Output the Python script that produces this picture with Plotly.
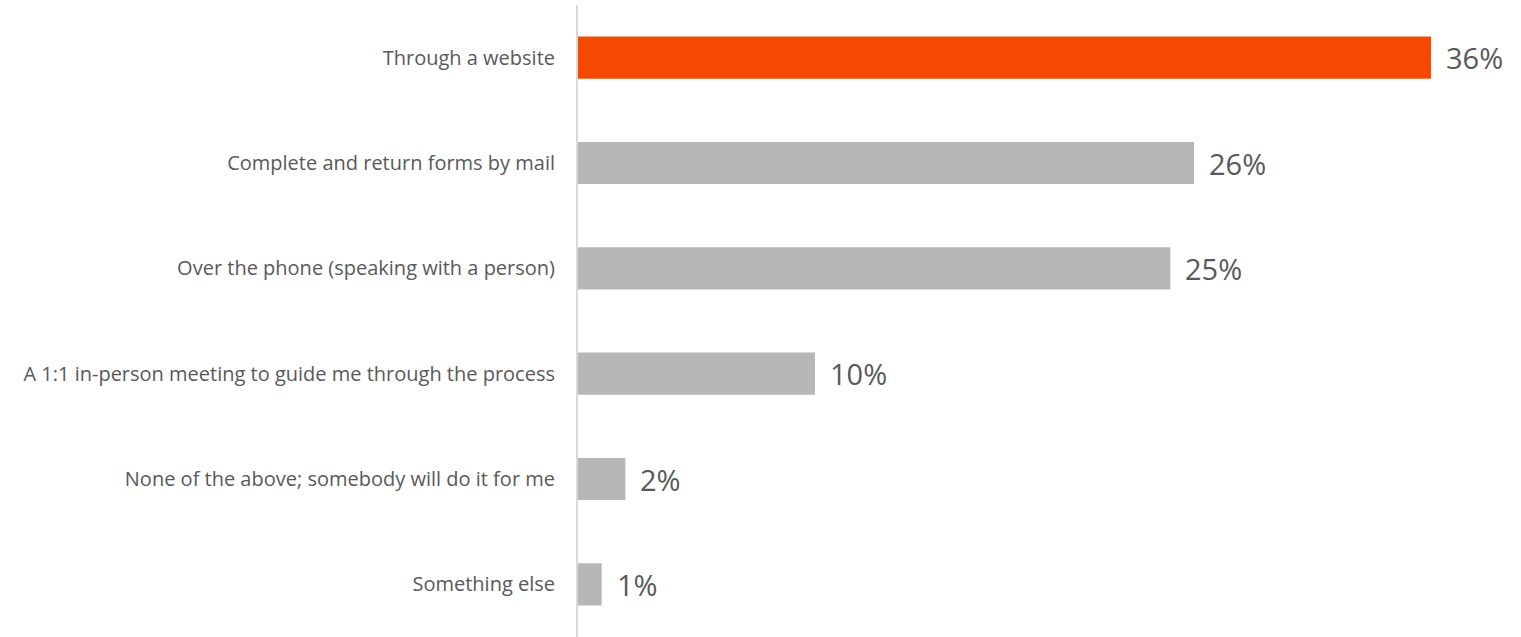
import plotly.graph_objects as go

# Survey answers, listed top to bottom
categories = [
    "Through a website",
    "Complete and return forms by mail",
    "Over the phone (speaking with a person)",
    "A 1:1 in-person meeting to guide me through the process",
    "None of the above; somebody will do it for me",
    "Something else",
]
values = [36, 26, 25, 10, 2, 1]
value_labels = ["36%", "26%", "25%", "10%", "2%", "1%"]

HIGHLIGHT = "#F54800"
MUTED = "#B7B7B7"
TEXT = "#595959"
FONT = "Open Sans"

colors = [HIGHLIGHT] + [MUTED] * (len(categories) - 1)

fig = go.Figure(
    go.Bar(
        x=values,
        y=categories,
        orientation="h",
        marker=dict(color=colors, line=dict(width=0)),
        hoverinfo="skip",
    )
)

for cat, val, lab in zip(categories, values, value_labels):
    fig.add_annotation(
        x=val, y=cat, text=lab, showarrow=False,
        xanchor="left", yanchor="middle", xshift=13,
        font=dict(family=FONT, size=29, color=TEXT),
    )

fig.update_layout(
    width=1521, height=637,
    margin=dict(l=578, r=0, t=5, b=0),
    paper_bgcolor="white", plot_bgcolor="white",
    bargap=0.6, showlegend=False,
    font=dict(family=FONT, color=TEXT),
)
fig.update_xaxes(
    range=[0, 39.8], visible=False, showgrid=False, zeroline=False,
)
fig.update_yaxes(
    autorange="reversed", showgrid=False, zeroline=False,
    showline=True, linecolor="#D9D9D9", linewidth=2,
    ticks="", ticklabelstandoff=17,
    tickfont=dict(family=FONT, size=20, color=TEXT),
)

fig.write_html("out.html")
